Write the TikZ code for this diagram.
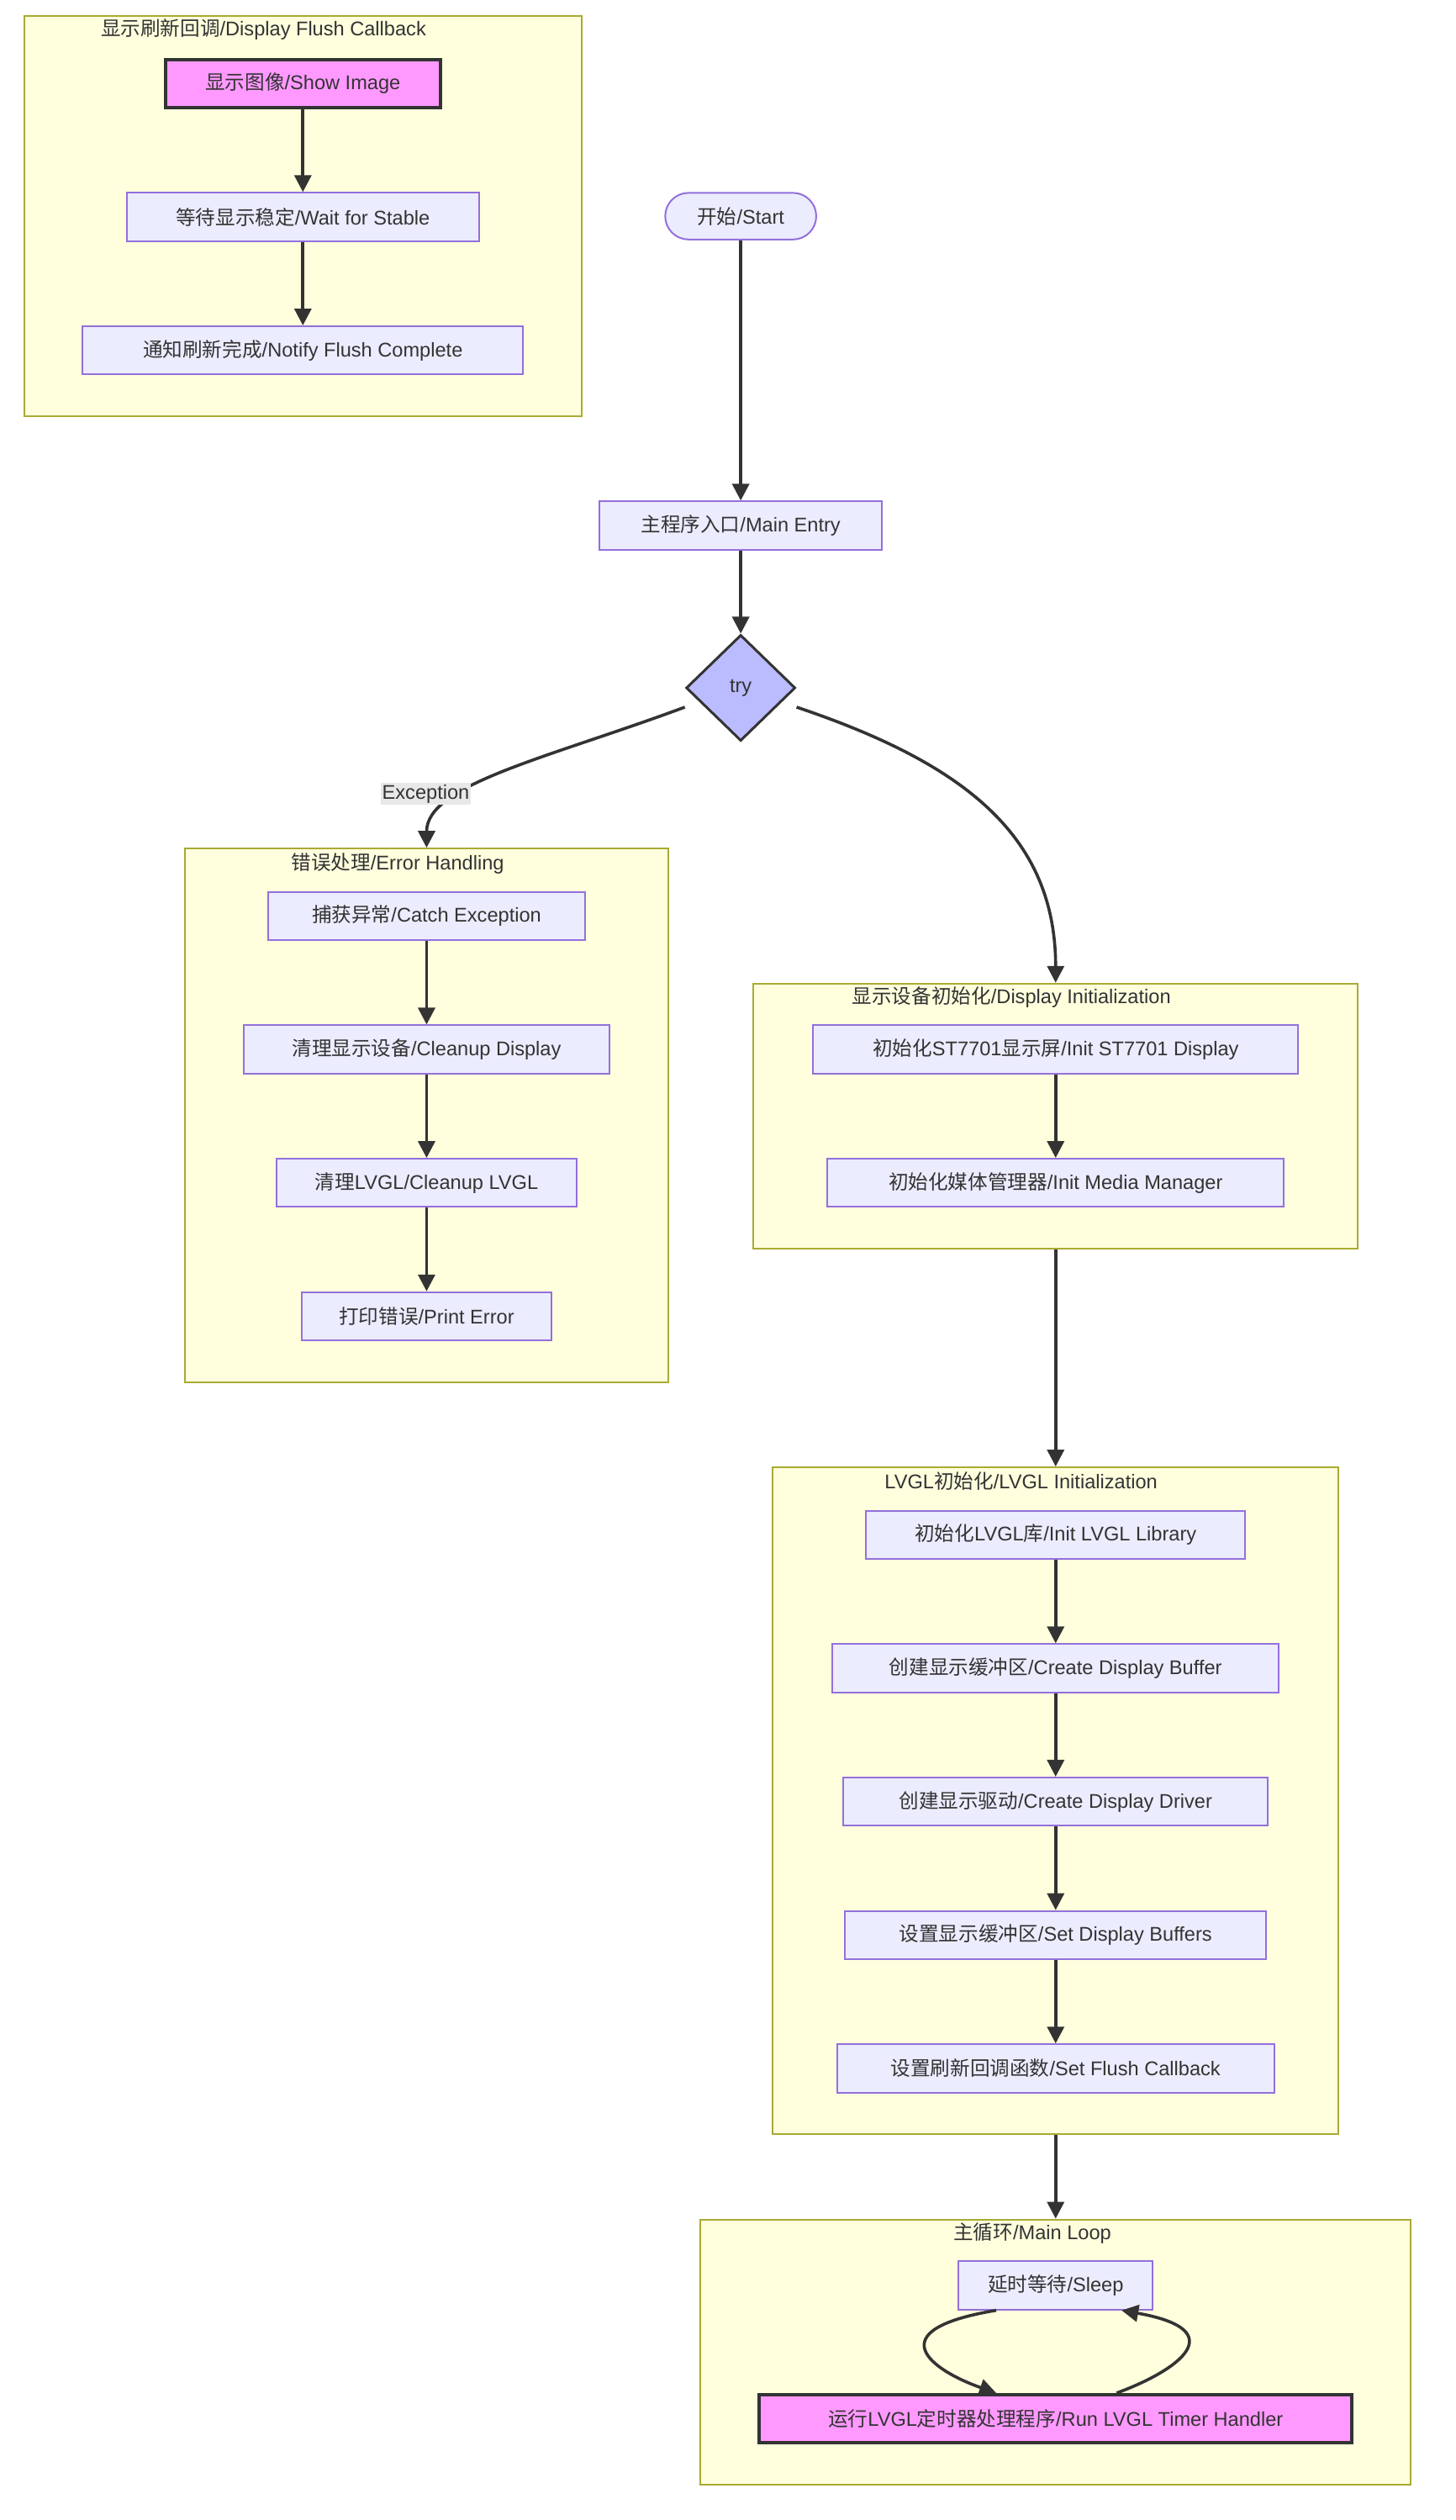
\documentclass[tikz,border=0pt]{standalone}
\usepackage{fontspec}
\setmainfont{Liberation Sans}
\newfontfamily\cjk{Noto Sans CJK SC}
\newcommand\zh[1]{{\cjk #1}}
\usetikzlibrary{arrows.meta,shapes.geometric,calc}
\definecolor{nodefill}{HTML}{ECECFF}
\definecolor{nodeline}{HTML}{9370DB}
\definecolor{clfill}{HTML}{FFFFDE}
\definecolor{clline}{HTML}{AAAA33}
\definecolor{dark}{HTML}{333333}
\definecolor{pinkfill}{HTML}{FF99FF}
\definecolor{diafill}{HTML}{BBBBFF}
\definecolor{lblbg}{HTML}{E8E8E8}
\def\uu{0.9558pt}
\begin{document}
\begin{tikzpicture}[x=0.9558pt,y=-0.9558pt,
  font=\fontsize{11.8pt}{14pt}\selectfont, text=dark,
  box/.style={draw=nodeline, fill=nodefill, line width=1pt, minimum height=30*\uu, inner sep=0pt},
  hl/.style={draw=dark, fill=pinkfill, line width=2pt, minimum height=30*\uu, inner sep=0pt},
  cluster/.style={draw=clline, fill=clfill, line width=1pt, inner sep=0pt},
  ttl/.style={inner sep=0pt},
  edge/.style={draw=dark, line width=1.8pt, -{Triangle[length=10pt,width=10pt]}},
]
\useasboundingbox[fill=white] (0,0) rectangle (906,1568);

% clusters
\node[cluster, minimum width=347*\uu, minimum height=249*\uu] (cFlush) at (188.5,134.5) {};
\node[cluster, minimum width=301*\uu, minimum height=332*\uu] (cErr) at (265.5,694) {};
\node[cluster, minimum width=376*\uu, minimum height=165*\uu] (cDisp) at (657,694.5) {};
\node[cluster, minimum width=352*\uu, minimum height=415*\uu] (cLvgl) at (657,1120.5) {};
\node[cluster, minimum width=442*\uu, minimum height=165*\uu] (cLoop) at (657,1463.5) {};

\node[ttl] (tFlush) at (164,18.5) {\zh{显示刷新回调}/Display Flush Callback};
\node[ttl] (tErr) at (247.5,537.5) {\zh{错误处理}/Error Handling};
\node[ttl] (tDisp) at (629.5,620.5) {\zh{显示设备初始化}/Display Initialization};
\node[ttl] (tLvgl) at (635.5,921.5) {LVGL\zh{初始化}/LVGL Initialization};
\node[ttl] (tLoop) at (642.5,1389.5) {\zh{主循环}/Main Loop};

% flush callback
\node[hl, minimum width=171*\uu] (show) at (188.5,52) {\zh{显示图像}/Show Image};
\node[box, minimum width=219*\uu] (wait) at (188.5,135) {\zh{等待显示稳定}/Wait for Stable};
\node[box, minimum width=274*\uu] (notify) at (188.5,218) {\zh{通知刷新完成}/Notify Flush Complete};

% main flow
\node[box, minimum width=94*\uu, minimum height=29*\uu, rounded corners=14.5*\uu] (start) at (461,134.5) {\zh{开始}/Start};
\node[box, minimum width=176*\uu] (main) at (461,327) {\zh{主程序入口}/Main Entry};
\node[diamond, draw=dark, fill=diafill, line width=1.5pt, minimum width=68*\uu, minimum height=66*\uu, inner sep=0pt] (try) at (461,428) {try};

% error handling
\node[box, minimum width=197*\uu] (catch) at (265.5,570) {\zh{捕获异常}/Catch Exception};
\node[box, minimum width=228*\uu] (cleand) at (265.5,653) {\zh{清理显示设备}/Cleanup Display};
\node[box, minimum width=187*\uu] (cleanl) at (265.5,736) {\zh{清理}LVGL/Cleanup LVGL};
\node[box, minimum width=155*\uu] (perr) at (265.5,819) {\zh{打印错误}/Print Error};

% display init
\node[box, minimum width=302*\uu] (st) at (657,653) {\zh{初始化}ST7701\zh{显示屏}/Init ST7701 Display};
\node[box, minimum width=284*\uu] (media) at (657,736) {\zh{初始化媒体管理器}/Init Media Manager};

% lvgl init
\node[box, minimum width=236*\uu] (lvlib) at (657,955) {\zh{初始化}LVGL\zh{库}/Init LVGL Library};
\node[box, minimum width=278*\uu] (cbuf) at (657,1038) {\zh{创建显示缓冲区}/Create Display Buffer};
\node[box, minimum width=264*\uu] (cdrv) at (657,1121) {\zh{创建显示驱动}/Create Display Driver};
\node[box, minimum width=262*\uu] (sbuf) at (657,1204) {\zh{设置显示缓冲区}/Set Display Buffers};
\node[box, minimum width=272*\uu] (sflush) at (657,1287) {\zh{设置刷新回调函数}/Set Flush Callback};

% main loop
\node[box, minimum width=121*\uu] (sleep) at (657,1422) {\zh{延时等待}/Sleep};
\node[hl, minimum width=369*\uu] (run) at (657,1505) {\zh{运行}LVGL\zh{定时器处理程序}/Run LVGL Timer Handler};

% edges
\draw[edge] (show) -- (wait);
\draw[edge] (wait) -- (notify);
\draw[edge] (start) -- (main);
\draw[edge] (main) -- (try);
\draw[edge] ($(try.west)+(0,12)$) .. controls (340,472) and (265.5,488) .. (cErr.north);
\node[fill=lblbg, inner sep=1pt] (exc) at (265,494) {Exception};
\draw[edge] ($(try.east)+(0,12)$) .. controls (600,475) and (657,520) .. (cDisp.north);
\draw[edge] (catch) -- (cleand);
\draw[edge] (cleand) -- (cleanl);
\draw[edge] (cleanl) -- (perr);
\draw[edge] (st) -- (media);
\draw[edge] (cDisp.south) -- (cLvgl.north);
\draw[edge] (lvlib) -- (cbuf);
\draw[edge] (cbuf) -- (cdrv);
\draw[edge] (cdrv) -- (sbuf);
\draw[edge] (sbuf) -- (sflush);
\draw[edge] (cLvgl.south) -- (cLoop.north);
\draw[edge] ($(sleep.south)+(-37,0)$) .. controls (545,1450) and (580,1475) .. ($(run.north)+(-37,0)$);
\draw[edge] ($(run.north)+(38,0)$) .. controls (733,1475) and (768,1450) .. ($(sleep.south)+(41,0)$);
\end{tikzpicture}
\end{document}
